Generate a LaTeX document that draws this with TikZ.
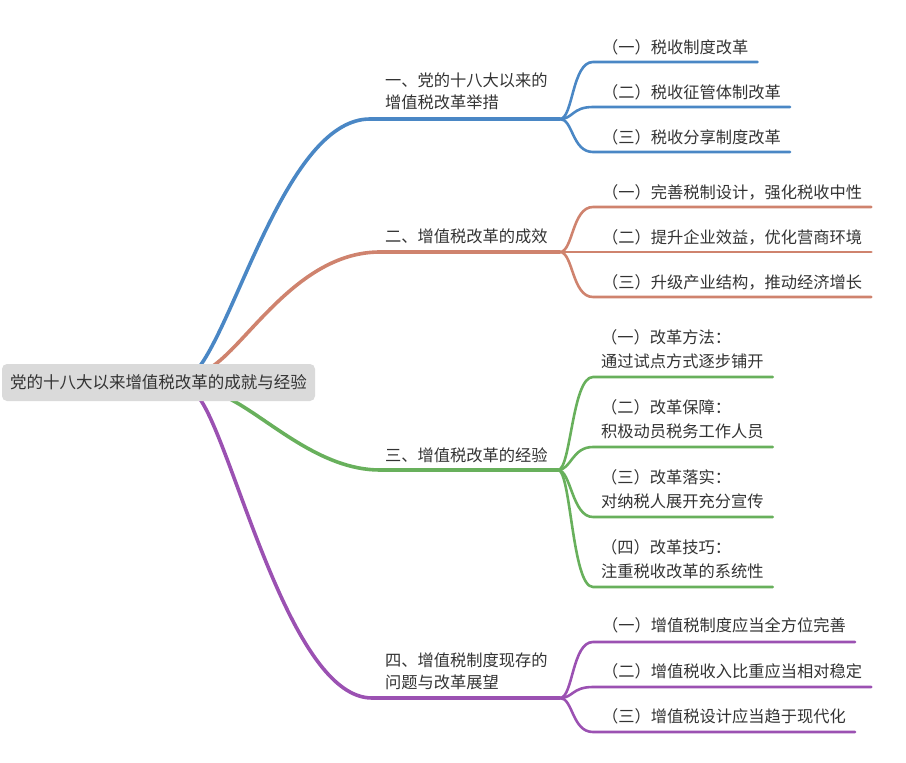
\documentclass[tikz,border=0pt]{standalone}
\usepackage{fontspec}
\setmainfont{Noto Sans CJK SC}
\usetikzlibrary{calc}
\definecolor{cblue}{HTML}{4A87C5}
\definecolor{corange}{HTML}{CF836E}
\definecolor{cgreen}{HTML}{68B05C}
\definecolor{cpurple}{HTML}{9B51B2}
\definecolor{tc}{HTML}{333333}
\definecolor{rootgray}{HTML}{DADADA}
\newcommand\subbr[4]{%
  \coordinate (h#4) at (593,#3);
  \draw[sub,#1] (#2) .. controls ($(#2)+(13,0)$) and (572,#3) .. (h#4) -- ($(#4.east |- h#4)+(9,0)$);}
\begin{document}
\begin{tikzpicture}[x=1pt,y=-1pt,
  main/.style={line width=3.6pt,line cap=round},
  sub/.style={line width=2.6pt,line cap=round},
  txt/.style={anchor=west,inner sep=0pt,text=tc,font=\fontsize{16.25}{22}\selectfont,align=left},
  txtb/.style={txt,font=\fontsize{16.25}{24.5}\selectfont},
  rootbox/.style={fill=rootgray,rounded corners=5pt,minimum width=313pt,minimum height=37pt,inner sep=0pt,text=tc,font=\fontsize{16.5}{20}\selectfont}]
\useasboundingbox (0,0) rectangle (906,763);

% texts
\node[txt] (b1) at (385,91) {一、党的十八大以来的\\增值税改革举措};
\node[txt] (b2) at (385,236) {二、增值税改革的成效};
\node[txt] (b3) at (385,455) {三、增值税改革的经验};
\node[txt] (b4) at (385,671) {四、增值税制度现存的\\问题与改革展望};

\node[txt] (s11) at (602,47) {（一）税收制度改革};
\node[txt] (s12) at (602,92) {（二）税收征管体制改革};
\node[txt] (s13) at (602,137) {（三）税收分享制度改革};

\node[txt] (s21) at (602,192) {（一）完善税制设计，强化税收中性};
\node[txt] (s22) at (602,237) {（二）提升企业效益，优化营商环境};
\node[txt] (s23) at (602,282) {（三）升级产业结构，推动经济增长};

\node[txtb] (s31) at (601,349) {（一）改革方法：\\通过试点方式逐步铺开};
\node[txtb] (s32) at (601,419) {（二）改革保障：\\积极动员税务工作人员};
\node[txtb] (s33) at (601,489) {（三）改革落实：\\对纳税人展开充分宣传};
\node[txtb] (s34) at (601,559) {（四）改革技巧：\\注重税收改革的系统性};

\node[txt] (s41) at (602,625) {（一）增值税制度应当全方位完善};
\node[txt] (s42) at (602,671) {（二）增值税收入比重应当相对稳定};
\node[txt] (s43) at (602,716) {（三）增值税设计应当趋于现代化};

% forks
\coordinate (f1) at (560,119);
\coordinate (f2) at (560,252);
\coordinate (f3) at (558,470);
\coordinate (f4) at (560,698);

% root anchor points
\coordinate (o1) at (200,366);
\coordinate (o2) at (213,366);
\coordinate (o3) at (230,399);
\coordinate (o4) at (200,399);

% main branches
\draw[main,cblue] (o1) .. controls (240,310) and (290,119) .. (370,119) -- (f1);
\draw[main,corange] (o2) .. controls (250,340) and (300,252) .. (380,252) -- (f2);
\draw[main,cgreen] (o3) .. controls (270,420) and (320,470) .. (380,470) -- (f3);
\draw[main,cpurple] (o4) .. controls (235,450) and (290,698) .. (372,698) -- (f4);

% sub branches
\subbr{cblue}{f1}{62}{s11}
\subbr{cblue}{f1}{107}{s12}
\subbr{cblue}{f1}{152}{s13}
\subbr{corange}{f2}{207}{s21}
\subbr{corange}{f2}{252}{s22}
\subbr{corange}{f2}{297}{s23}
\subbr{cgreen}{f3}{377}{s31}
\subbr{cgreen}{f3}{447}{s32}
\subbr{cgreen}{f3}{517}{s33}
\subbr{cgreen}{f3}{587}{s34}
\subbr{cpurple}{f4}{642}{s41}
\subbr{cpurple}{f4}{687}{s42}
\subbr{cpurple}{f4}{732}{s43}

% root
\node[rootbox] (r) at (158.5,382.5) {党的十八大以来增值税改革的成就与经验};
\end{tikzpicture}
\end{document}
